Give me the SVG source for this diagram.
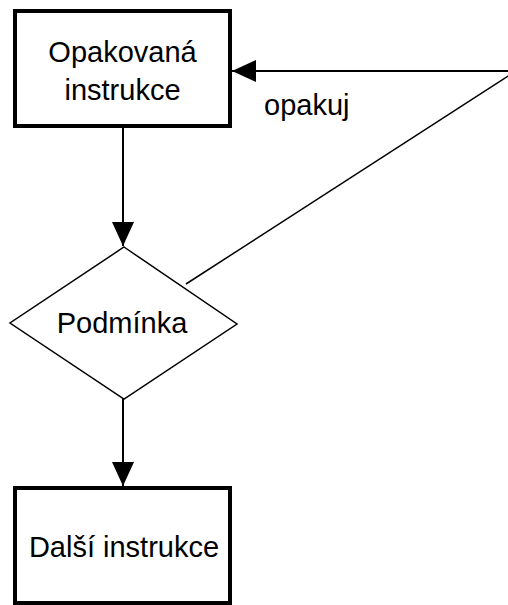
<svg xmlns="http://www.w3.org/2000/svg" width="508" height="605" viewBox="0 0 508 605">
<style>
.box{fill:#fff;stroke:#000;stroke-width:4}
.dia{fill:#fff;stroke:#000;stroke-width:1.5}
.t{font-family:"Liberation Sans",Arial,sans-serif;font-size:29px;fill:#000;text-anchor:middle}
.l{font-family:"Liberation Sans",Arial,sans-serif;font-size:29px;fill:#000}
.c{fill:none;stroke:#000;stroke-width:2}
.d{fill:none;stroke:#000;stroke-width:1.5}
</style>
<defs>
<marker id="ah" viewBox="0 0 24 24" refX="24" refY="12" markerWidth="24" markerHeight="24" markerUnits="userSpaceOnUse" orient="auto">
<path d="M0,1 L24,12 L0,23 Z" fill="#000"/>
</marker>
</defs>
<g id="connectors">
<line class="c" x1="123" y1="128" x2="123" y2="246" marker-end="url(#ah)"/>
<line class="c" x1="123" y1="398" x2="123" y2="486" marker-end="url(#ah)"/>
<polyline class="d" points="186,284 516,71"/>
<line class="c" x1="516" y1="71" x2="232" y2="71" marker-end="url(#ah)"/>
<text class="l" x="264" y="115">opakuj</text>
</g>
<g id="node-opakovana">
<rect class="box" x="15" y="11" width="215" height="115"/>
<text class="t" x="122.5" y="62">Opakovaná</text>
<text class="t" x="122.5" y="100">instrukce</text>
</g>
<g id="node-podminka">
<polygon class="dia" points="124,247 237,324 124,399 10,323"/>
<text class="t" x="122" y="333">Podmínka</text>
</g>
<g id="node-dalsi">
<rect class="box" x="15" y="488" width="215" height="115"/>
<text class="t" x="124" y="557">Další instrukce</text>
</g>
</svg>
